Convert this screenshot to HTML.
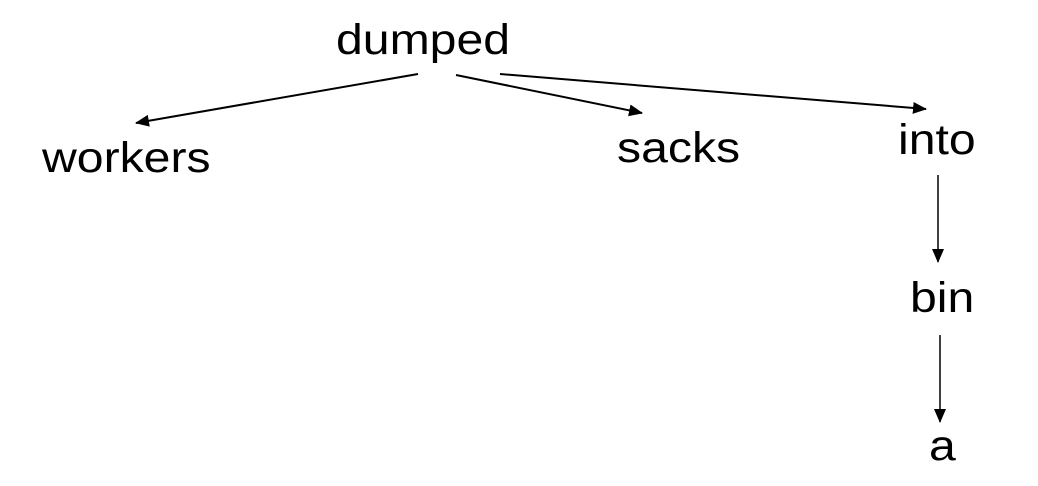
<!DOCTYPE html>
<html><head><style>
html,body{margin:0;padding:0;background:#fff;}
body{width:1038px;height:486px;position:relative;overflow:hidden;font-family:"Liberation Sans",Arial,sans-serif;}
.t{position:absolute;font-size:43px;color:#000;line-height:1;transform:scaleX(1.12);transform-origin:0 0;}
</style></head><body>
<div class="t" style="left:336px;top:19px;">dumped</div>
<div class="t" style="left:42px;top:137px;">workers</div>
<div class="t" style="left:617px;top:127px;">sacks</div>
<div class="t" style="left:898px;top:119px;">into</div>
<div class="t" style="left:910px;top:277px;">bin</div>
<div class="t" style="left:929px;top:425px;">a</div>
<svg width="1038" height="486" style="position:absolute;left:0;top:0">
<defs>
<marker id="b" markerWidth="14" markerHeight="14" refX="13" refY="7" orient="auto" markerUnits="userSpaceOnUse" viewBox="0 0 14 14"><path d="M0,1 L14,7 L0,13 Z" fill="#000"/></marker></defs>
<g stroke="#000" stroke-width="2" fill="none">
<line x1="418" y1="74" x2="136" y2="123" marker-end="url(#b)"/>
<line x1="456" y1="75" x2="642" y2="113" marker-end="url(#b)"/>
<line x1="500" y1="74" x2="926" y2="109" marker-end="url(#b)"/>
<line x1="938" y1="175" x2="938" y2="262" stroke-width="1.5" marker-end="url(#b)"/>
<line x1="940" y1="335" x2="940" y2="422" stroke-width="1.5" marker-end="url(#b)"/>
</g></svg>
</body></html>
